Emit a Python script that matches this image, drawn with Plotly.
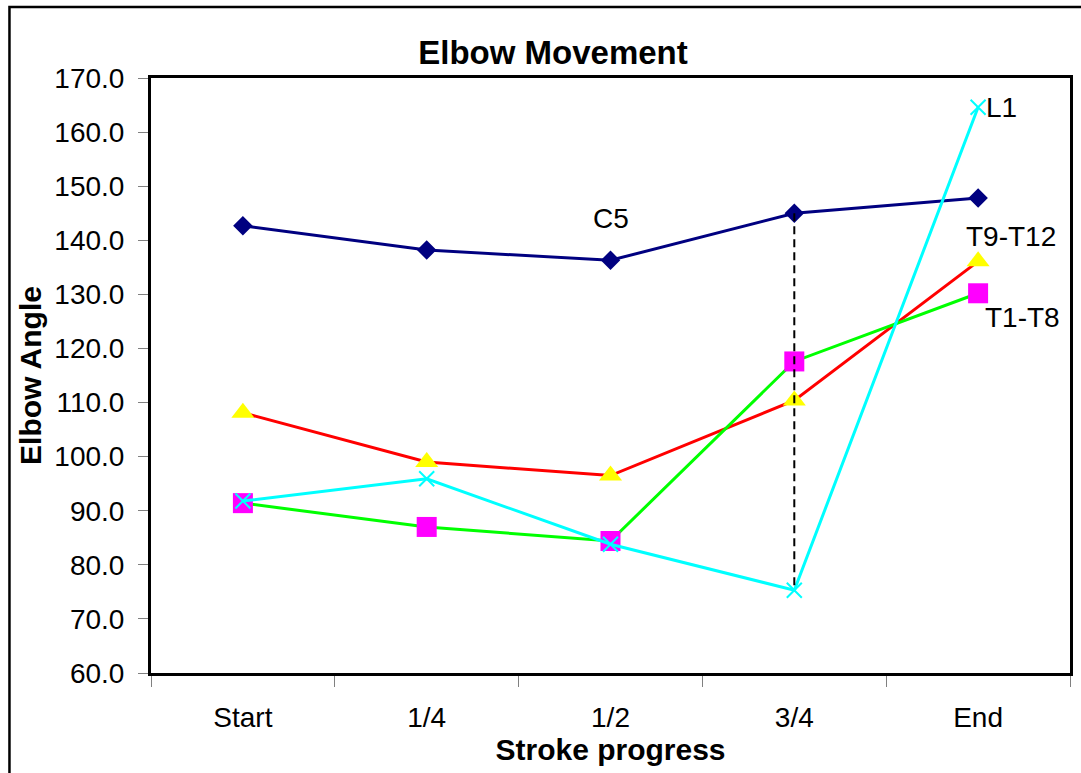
import plotly.graph_objects as go

# Stroke phases and elbow angle (degrees) for each spinal level group
phases = ["Start", "1/4", "1/2", "3/4", "End"]
c5 = [142.7, 138.2, 136.3, 145.0, 147.8]
t9_t12 = [108.1, 99.0, 96.5, 110.4, 136.1]
t1_t8 = [91.4, 87.0, 84.4, 117.6, 130.2]
l1 = [91.8, 95.9, 83.8, 75.3, 164.6]

y_ticks = [60, 70, 80, 90, 100, 110, 120, 130, 140, 150, 160, 170]

FONT = "Liberation Sans, Arial, sans-serif"
W, H = 1081, 773
ML, MR, MT, MB = 151, 8, 78, 100

fig = go.Figure()

fig.add_trace(go.Scatter(
    x=phases, y=c5, name="C5", mode="lines+markers",
    line=dict(color="#000080", width=3),
    marker=dict(symbol="diamond", size=15, color="#000080"),
))
fig.add_trace(go.Scatter(
    x=phases, y=t9_t12, name="T9-T12", mode="lines+markers",
    line=dict(color="#FF0000", width=3),
    marker=dict(symbol="triangle-up", size=20, color="#FFFF00"),
))
fig.add_trace(go.Scatter(
    x=phases, y=t1_t8, name="T1-T8", mode="lines+markers",
    line=dict(color="#00FF00", width=3),
    marker=dict(symbol="square", size=20, color="#FF00FF"),
))
fig.add_trace(go.Scatter(
    x=phases, y=l1, name="L1", mode="lines+markers",
    line=dict(color="#00FFFF", width=3),
    marker=dict(symbol="x-thin", size=15, line=dict(color="#00FFFF", width=2)),
))

# Dashed drop line at 3/4 stroke between C5 and L1
fig.add_trace(go.Scatter(
    x=[phases[3], phases[3]], y=[c5[3], l1[3]], mode="lines",
    line=dict(color="black", width=2, dash="8px,5px"),
    hoverinfo="skip",
))

label_font = dict(family=FONT, size=28, color="black")
fig.add_annotation(x=phases[2], y=c5[2], text="C5", showarrow=False,
                   yshift=42, font=label_font)
fig.add_annotation(x=phases[4], y=l1[4], text="L1", showarrow=False,
                   xanchor="left", xshift=6, font=label_font)
fig.add_annotation(x=phases[4], y=t9_t12[4], text="T9-T12", showarrow=False,
                   xshift=33, yshift=25, font=label_font)
fig.add_annotation(x=phases[4], y=t1_t8[4], text="T1-T8", showarrow=False,
                   xshift=44, yshift=-24, font=label_font)

# Outer chart frame: left and top edges (the others fall outside the page)
pw, ph = W - ML - MR, H - MT - MB
fx0 = (9 - ML) / pw
fx1 = (W + 5 - ML) / pw
fy_top = (H - MB - 7) / ph
fy_bot = -(MB + 5) / ph
fig.add_shape(type="path", xref="paper", yref="paper",
              path=f"M {fx0},{fy_bot} L {fx0},{fy_top} L {fx1},{fy_top}",
              line=dict(color="black", width=2.5), layer="below")

fig.update_layout(
    width=W, height=H,
    margin=dict(l=ML, r=MR, t=MT, b=MB),
    paper_bgcolor="white", plot_bgcolor="white",
    showlegend=False,
    font=dict(family=FONT, size=28, color="black"),
    title=dict(text="<b>Elbow Movement</b>", x=553 / W, xanchor="center",
               xref="container", yref="container", y=1 - 52 / H, yanchor="middle",
               font=dict(family=FONT, size=33, color="black")),
)

fig.update_xaxes(
    type="category", range=[-0.5, 4.5],
    showline=True, linecolor="black", linewidth=3, mirror=True,
    ticks="outside", tickson="boundaries", ticklen=11, tickcolor="#808080", tickwidth=1,
    ticklabelstandoff=17,
    tickfont=dict(family=FONT, size=28, color="black"),
    showgrid=False, zeroline=False,
    title=dict(text="<b>Stroke progress</b>", standoff=4,
               font=dict(family=FONT, size=30, color="black")),
)
fig.update_yaxes(
    range=[60, 170], tickvals=y_ticks, tickformat=".1f",
    showline=True, linecolor="black", linewidth=3, mirror=True,
    ticks="outside", ticklen=10, tickcolor="#808080", tickwidth=1,
    ticklabelstandoff=8,
    tickfont=dict(family=FONT, size=28, color="black"),
    showgrid=False, zeroline=False,
    title=dict(text="<b>Elbow Angle</b>", standoff=4,
               font=dict(family=FONT, size=30, color="black")),
)

fig.write_html("out.html")
